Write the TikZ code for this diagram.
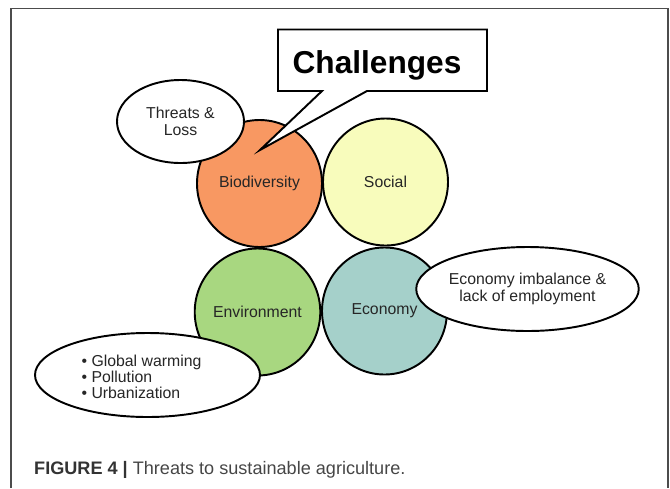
\documentclass[tikz,border=0pt]{standalone}
\usepackage{fontspec}
\setmainfont{Liberation Sans}
\usetikzlibrary{shapes.geometric}
\definecolor{bioorange}{RGB}{248,152,98}
\definecolor{socyellow}{RGB}{248,252,188}
\definecolor{envgreen}{RGB}{168,215,128}
\definecolor{ecoteal}{RGB}{165,208,202}
\definecolor{captxt}{RGB}{70,70,70}

\begin{document}
\begin{tikzpicture}[x=0.2mm, y=-0.2mm,
  area/.style={ellipse, draw, line width=1.1pt, minimum width=2.5cm, minimum height=2.54cm,
    inner sep=0pt, font=\fontsize{9}{9.7}\selectfont, text=black!85},
  note/.style={ellipse, draw, fill=white, line width=1.1pt, inner sep=0pt, align=center,
    font=\fontsize{9}{9.7}\selectfont, text=black!85}]
  \useasboundingbox (0,0) rectangle (670,488);
  \draw[black!70, line width=0.8pt] (11,488) -- (11,8.5) -- (668,8.5) -- (668,488);
  % the four areas
  \node[area, fill=bioorange] (bio) at (259.5,183.5) {Biodiversity};
  \node[area, fill=socyellow] (soc) at (385.5,182) {Social};
  \node[area, fill=envgreen] (env) at (257.5,312) {Environment};
  \node[area, fill=ecoteal] (eco) at (384.5,311) {Economy};
  % threats
  \node[note, minimum width=2.54cm, minimum height=1.66cm] (loss) at (180.5,121.5) {Threats \&\\Loss};
  \node[note, minimum width=4.38cm, minimum height=1.68cm] (imb) at (527.5,289) {Economy imbalance \&\\lack of employment};
  \node[note, minimum width=4.5cm, minimum height=1.68cm, font=\fontsize{9}{9.2}\selectfont] (warm) at (147.5,375)
    {\raisebox{-0.08cm}[\height][\depth]{\begin{tabular}{@{}l@{\hspace{2.4mm}}}\textbullet\ Global warming\\\textbullet\ Pollution\\\textbullet\ Urbanization\end{tabular}}};
  % callout
  \coordinate (tip) at (260,150);
  \draw[fill=white, line width=1.1pt] (278,29.5) -- (487,29.5) -- (487,91) -- (367,91) -- (tip) -- (322,91) -- (278,91) -- cycle;
  \node[font=\fontsize{18}{20}\selectfont\bfseries] (chal) at (377,65) {Challenges};
  \node[anchor=base west, font=\fontsize{10.3}{12}\selectfont] (cap) at (28,474)
    {\textbf{\color{black!80}FIGURE 4 |} \color{captxt}Threats to sustainable agriculture.};
\end{tikzpicture}
\end{document}
